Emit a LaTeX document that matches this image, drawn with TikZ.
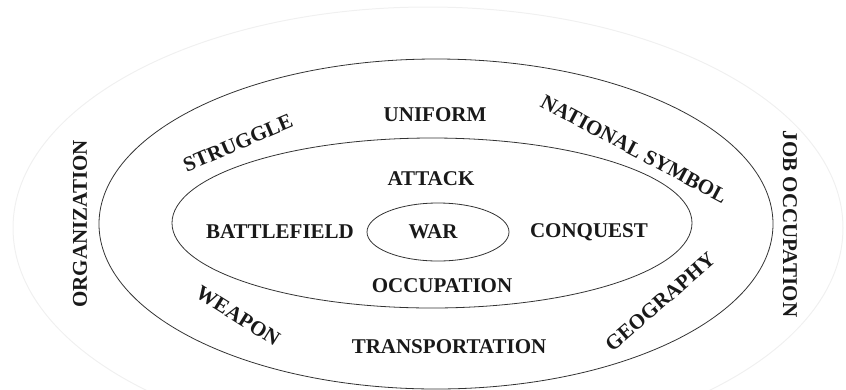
\documentclass[tikz,border=0pt]{standalone}
\usepackage{fontspec}
\setmainfont{Liberation Serif}
\begin{document}
\begin{tikzpicture}[x=1pt,y=-1pt,
  ring/.style={draw=black!80,line width=0.8pt},
  faint/.style={draw=black!6,line width=1pt},
  lbl/.style={font=\fontsize{21}{22}\selectfont\bfseries,inner sep=0pt,text=black!90}]
\useasboundingbox (0,0) rectangle (846,389);
\draw[faint] (428,228) ellipse [x radius=415, y radius=221];
\draw[ring] (436,224) ellipse [x radius=337, y radius=165];
\draw[ring] (432,223) ellipse [x radius=260, y radius=85];
\draw[ring] (438,232) ellipse [x radius=71, y radius=29];
\node[lbl] (war) at (433,232) {WAR};
\node[lbl] (attack) at (431,179) {ATTACK};
\node[lbl] (battle) at (280,232) {BATTLEFIELD};
\node[lbl] (conquest) at (589,232) {CONQUEST};
\node[lbl] (occ) at (442,286) {OCCUPATION};
\node[lbl] (uniform) at (435,115) {UNIFORM};
\node[lbl] (transp) at (449,347) {TRANSPORTATION};
\node[lbl,rotate=23] (struggle) at (238,143) {STRUGGLE};
\node[lbl,rotate=-28] (national) at (634,149) {NATIONAL SYMBOL};
\node[lbl,rotate=-32] (weapon) at (238,316) {WEAPON};
\node[lbl,rotate=41] (geo) at (660,302) {GEOGRAPHY};
\node[lbl,rotate=90] (org) at (80,224) {ORGANIZATION};
\node[lbl,rotate=-90] (job) at (790,224) {JOB OCCUPATION};
\end{tikzpicture}
\end{document}
